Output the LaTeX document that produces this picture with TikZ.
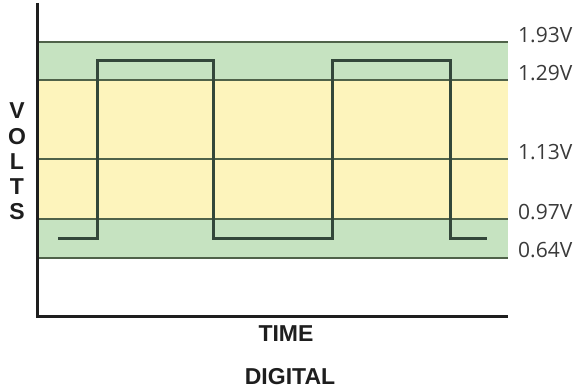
\documentclass[tikz,border=0pt]{standalone}
\usepackage{fontspec}
\setmainfont{Open Sans}
\newfontfamily\axisfont{Liberation Sans}
\definecolor{bandgreen}{HTML}{C6E3C1}
\definecolor{bandyellow}{HTML}{FDF4BC}
\definecolor{gridline}{HTML}{4F6249}
\definecolor{wave}{HTML}{33473A}
\definecolor{axisink}{HTML}{1E1E1E}
\definecolor{labelink}{HTML}{3A3A3A}
\tikzset{
  gridrule/.style={draw=gridline, line width=2.2pt},
  axisrule/.style={draw=axisink, line width=3pt},
  signal/.style={draw=wave, line width=3pt, line join=miter},
  vlabel/.style={anchor=west, inner sep=0pt, text=labelink, font=\fontsize{21}{24}\selectfont},
  axlabel/.style={inner sep=0pt, text=axisink, font=\axisfont\bfseries\fontsize{23}{26}\selectfont},
}
\begin{document}
\begin{tikzpicture}[x=1pt, y=-1pt]
  \useasboundingbox (0,0) rectangle (588,390);
  \fill[white] (0,0) rectangle (588,390);

  % logic-level bands
  \fill[bandgreen]  (37,42)  rectangle (508,80);
  \fill[bandyellow] (37,80)  rectangle (508,219);
  \fill[bandgreen]  (37,219) rectangle (508,258);

  % threshold lines
  \foreach \yy in {42,80,159,219,258}
    \draw[gridrule] (37,\yy) -- (508,\yy);

  % square-wave signal
  \draw[signal] (58,238) -- (97,238) -- (97,61) -- (213,61) -- (213,238)
    -- (332,238) -- (332,61) -- (450,61) -- (450,238) -- (487,238);

  % axes
  \coordinate (top) at (37,3);
  \coordinate (origin) at (37,316);
  \coordinate (right) at (508,316);
  \draw[axisrule] (top) -- (origin) -- (right);

  % voltage labels
  \node[vlabel] (v193) at (518,35)  {1.93V};
  \node[vlabel] (v129) at (518,73)  {1.29V};
  \node[vlabel] (v113) at (518,152) {1.13V};
  \node[vlabel] (v097) at (518,212) {0.97V};
  \node[vlabel] (v064) at (518,250) {0.64V};

  % axis titles
  \node[axlabel] (lv) at (17,111) {V};
  \node[axlabel] (lo) at (17,137) {O};
  \node[axlabel] (ll) at (17,162) {L};
  \node[axlabel] (lt) at (17,187) {T};
  \node[axlabel] (ls) at (17,212) {S};
  \node[axlabel] (time) at (286,334) {TIME};
  \node[axlabel] (digital) at (290,377) {DIGITAL};
\end{tikzpicture}
\end{document}
